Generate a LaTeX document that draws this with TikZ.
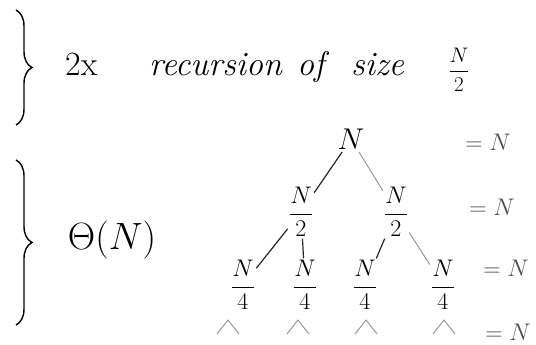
\documentclass[tikz,border=0pt]{standalone}
\usepackage{fix-cm}
\usepackage{amsmath}
\usepackage{amssymb}
\usepackage{fontspec}
\usetikzlibrary{calc}
\usetikzlibrary{decorations.pathreplacing}

\begin{document}
\begin{tikzpicture}[x=1pt, y=-1pt, every node/.style={font=\fontsize{34}{38}\selectfont, inner sep=1pt},
  word/.style={font=\fontsize{34}{38}\selectfont\itshape, anchor=base west},
  frac/.style={font=\fontsize{24}{26}\selectfont, inner sep=0pt},
  eq/.style={font=\fontsize{24}{26}\selectfont, text=black!70},
  branch/.style={line width=1.2pt, black!85, shorten <=2pt, shorten >=2pt},
  lightbranch/.style={line width=1pt, black!40, shorten <=2pt, shorten >=2pt},
  bracket/.style={line width=1.4pt, decorate, decoration={brace, amplitude=16pt}}]
				\useasboundingbox (0,0) rectangle (536,345);
				
				% braces on the left
				\draw[bracket] (16,10) -- (16,125);
				\draw[bracket] (16,160) -- (16,325);
				
				\node[anchor=base west] (two) at (64,76) {2x};
				\node[word] (rec) at (148,76) {recursion};
				\node[word] (of) at (296,76) {of};
				\node[word] (size) at (350,76) {size};
				\node[frac, font=\fontsize{21}{23}\selectfont] (half) at (459,70) {$\dfrac{N}{2}$};
				\node[font=\fontsize{38}{40}\selectfont] (work) at (112,240) {$\Theta(N)$};
				
				% tree
				\node[font=\fontsize{30}{32}\selectfont] (n) at (351,139) {$N$};
				\node[frac] (l) at (301,212) {$\dfrac{N}{2}$};
				\node[frac] (r) at (396,212) {$\dfrac{N}{2}$};
				\node[frac] (ll) at (243,285) {$\dfrac{N}{4}$};
				\node[frac] (lr) at (305,285) {$\dfrac{N}{4}$};
				\node[frac] (rl) at (365,285) {$\dfrac{N}{4}$};
				\node[frac] (rr) at (443,285) {$\dfrac{N}{4}$};
				
				\draw[branch] (n) -- (l);
				\draw[lightbranch] (n) -- (r);
				\draw[branch] (l) -- (ll);
				\draw[branch] (l) -- (lr);
				\draw[branch] (r) -- (rl);
				\draw[lightbranch] (r) -- (rr);
				
				% next level stubs
				\foreach \name/\x in {a/228, b/298, c/366, d/444} {
					\coordinate (\name t) at (\x,320);
					\draw[lightbranch, shorten <=0pt, shorten >=0pt] ($(\name t)+(-11,14)$) -- (\name t) -- ($(\name t)+(11,14)$);
				}
				
				% sums per level
				\node[eq] (s0) at (488,142) {$=N$};
				\node[eq] (s1) at (492,207) {$=N$};
				\node[eq] (s2) at (506,268) {$=N$};
				\node[eq] (s3) at (508,332) {$=N$};
			\end{tikzpicture}
\end{document}
